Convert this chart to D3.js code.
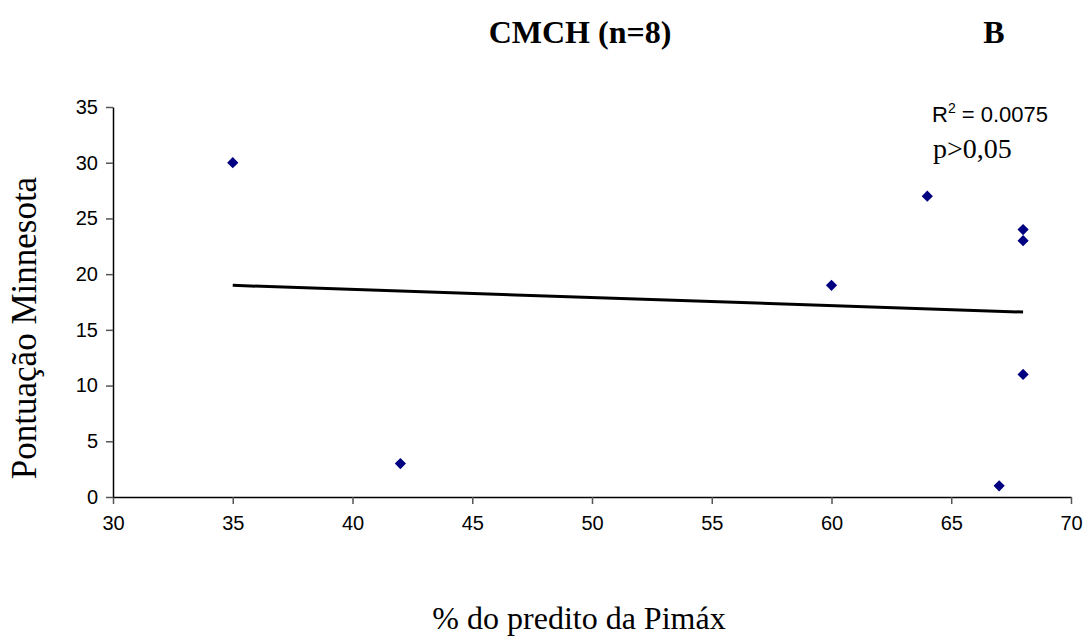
<!DOCTYPE html>
<meta charset="utf-8">
<body style="margin:0;background:#fff">
  <div id="box"></div>
  <script src="https://d3js.org/d3.v7.min.js"></script>
  <script>
    // data
    var pimax = [35, 42, 60, 64, 67, 68, 68, 68];
    var minnesota = [30, 3, 19, 27, 1, 24, 23, 11];
    var xTicks = [30, 35, 40, 45, 50, 55, 60, 65, 70];
    var yTicks = [0, 5, 10, 15, 20, 25, 30, 35];
    var title = "CMCH (n=8)";
    var panel = "B";
    var xLabel = "% do predito da Pimáx";
    var yLabel = "Pontuação Minnesota";
    var r2Text = "0.0075";
    var pText = "p>0,05";

    var W = 1091, H = 640;
    var margin = {top: 107, right: 20, bottom: 143, left: 113};

    var svg = d3.select("#box").append("svg")
      .attr("width", W)
      .attr("height", H);

    var x = d3.scaleLinear().domain([30, 70]).range([margin.left, 1071]);
    var y = d3.scaleLinear().domain([0, 35]).range([497, margin.top]);

    // axes
    var xAxis = svg.append("g")
      .attr("transform", "translate(0," + y(0) + ")")
      .call(d3.axisBottom(x).tickValues(xTicks).tickSize(7).tickSizeOuter(0).tickPadding(12));
    var yAxis = svg.append("g")
      .attr("transform", "translate(" + x(30) + ",0)")
      .call(d3.axisLeft(y).tickValues(yTicks).tickSize(7).tickSizeOuter(0).tickPadding(8));

    [xAxis, yAxis].forEach(function(g) {
      g.select(".domain").attr("stroke", "#000").attr("stroke-width", 1.5);
      g.selectAll(".tick line").attr("stroke", "#555").attr("stroke-width", 1.5);
      g.selectAll(".tick text")
        .attr("fill", "#000")
        .style("font-family", "'Liberation Sans', Arial, sans-serif")
        .style("font-size", "20px");
    });

    // linear trend line (least squares)
    var mx = d3.mean(pimax), my = d3.mean(minnesota);
    var sxy = d3.sum(pimax, function(d, i) { return (d - mx) * (minnesota[i] - my); });
    var sxx = d3.sum(pimax, function(d) { return (d - mx) * (d - mx); });
    var slope = sxy / sxx, icpt = my - slope * mx;
    var x0 = d3.min(pimax), x1 = d3.max(pimax);
    svg.append("line")
      .attr("x1", x(x0)).attr("y1", y(icpt + slope * x0))
      .attr("x2", x(x1)).attr("y2", y(icpt + slope * x1))
      .attr("stroke", "#000")
      .attr("stroke-width", 3);

    // diamonds
    svg.selectAll(".pt")
      .data(pimax)
      .enter().append("path")
      .attr("class", "pt")
      .attr("d", d3.symbol().type(d3.symbolDiamond2).size(80))
      .attr("transform", function(d, i) {
        return "translate(" + x(d) + "," + y(minnesota[i]) + ")";
      })
      .attr("fill", "#000080");

    // titles
    svg.append("text")
      .attr("x", 580).attr("y", 43)
      .attr("text-anchor", "middle")
      .style("font-family", "'Liberation Serif', 'Times New Roman', serif")
      .style("font-weight", "bold")
      .style("font-size", "32px")
      .text(title);
    svg.append("text")
      .attr("x", 994).attr("y", 43)
      .attr("text-anchor", "middle")
      .style("font-family", "'Liberation Serif', 'Times New Roman', serif")
      .style("font-weight", "bold")
      .style("font-size", "32px")
      .text(panel);

    svg.append("text")
      .attr("x", 579).attr("y", 629)
      .attr("text-anchor", "middle")
      .style("font-family", "'Liberation Serif', 'Times New Roman', serif")
      .style("font-size", "32px")
      .text(xLabel);
    svg.append("text")
      .attr("transform", "translate(36," + 328 + ") rotate(-90)")
      .attr("text-anchor", "middle")
      .style("font-family", "'Liberation Serif', 'Times New Roman', serif")
      .style("font-size", "35px")
      .text(yLabel);

    // R² and p annotation
    var r2 = svg.append("text")
      .attr("x", 932).attr("y", 122)
      .style("font-family", "'Liberation Sans', Arial, sans-serif")
      .style("font-size", "22px");
    r2.append("tspan").text("R");
    r2.append("tspan").attr("dy", -9).style("font-size", "14px").text("2");
    r2.append("tspan").attr("dy", 9).text(" = " + r2Text);
    svg.append("text")
      .attr("x", 933).attr("y", 158)
      .style("font-family", "'Liberation Serif', 'Times New Roman', serif")
      .style("font-size", "28px")
      .text(pText);
  </script>
</body>
